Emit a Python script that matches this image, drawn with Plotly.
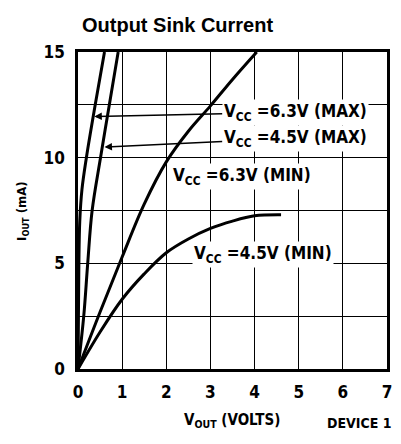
import plotly.graph_objects as go

# Output sink current curves, VOUT (V) vs IOUT (mA)
vout_63_max = [0.0, 0.01, 0.02, 0.04, 0.09, 0.19, 0.39, 0.60]
iout_63_max = [0.0, 2.5, 5.0, 7.0, 8.5, 10.0, 12.5, 15.0]

vout_45_max = [0.0, 0.13, 0.22, 0.32, 0.51, 0.71, 0.91]
iout_45_max = [0.0, 2.5, 5.0, 7.5, 10.0, 12.5, 15.0]

vout_63_min = [0.0, 0.5, 1.0, 1.5, 2.0, 2.5, 3.0, 3.5, 4.05]
iout_63_min = [0.0, 2.7, 5.3, 7.8, 9.8, 11.25, 12.45, 13.7, 15.0]

vout_45_min = [0.0, 0.5, 1.0, 1.5, 2.0, 2.5, 3.0, 3.5, 4.0, 4.6]
iout_45_min = [0.0, 1.75, 3.3, 4.5, 5.5, 6.15, 6.65, 7.0, 7.25, 7.3]

x_ticks = [0, 1, 2, 3, 4, 5, 6, 7]
y_ticks = [0, 2.5, 5, 7.5, 10, 12.5, 15]
y_tick_text = ["0", "", "5", "", "10", "", "15"]

COND = "DejaVu Sans Condensed, Liberation Sans Narrow, Arial Narrow, sans-serif"
SANS = "Liberation Sans, Arial, Helvetica, sans-serif"

W, H = 401, 444
L, R, T, B = 78, 9, 52, 75
pw, ph = W - L - R, H - T - B


def px_to_paper(px, py):
    return (px - L) / pw, 1 - (py - T) / ph


fig = go.Figure()
for xs, ys in [(vout_63_max, iout_63_max), (vout_45_max, iout_45_max),
               (vout_63_min, iout_63_min), (vout_45_min, iout_45_min)]:
    fig.add_trace(go.Scatter(x=xs, y=ys, mode="lines",
                             line=dict(color="black", width=3, shape="spline", smoothing=1.0),
                             hoverinfo="skip", showlegend=False))

label_font = dict(family=COND, size=17, color="black", weight="bold")

# Curve labels with leader arrows for the two MAX curves
fig.add_annotation(x=0.37, y=11.95, ax=4.92, ay=12.16, axref="x", ayref="y",
                   text="V<sub>CC</sub> =6.3V (MAX)", showarrow=True,
                   arrowhead=2, arrowsize=1, arrowwidth=1.5, arrowcolor="black",
                   standoff=0, bgcolor="white", borderpad=1, font=label_font)
fig.add_annotation(x=0.6, y=10.5, ax=4.92, ay=10.93, axref="x", ayref="y",
                   text="V<sub>CC</sub> =4.5V (MAX)", showarrow=True,
                   arrowhead=2, arrowsize=1, arrowwidth=1.5, arrowcolor="black",
                   standoff=0, bgcolor="white", borderpad=1, font=label_font)
fig.add_annotation(x=3.71, y=9.09, text="V<sub>CC</sub> =6.3V (MIN)", showarrow=False,
                   bgcolor="white", borderpad=1, font=label_font)
fig.add_annotation(x=4.2, y=5.4, text="V<sub>CC</sub> =4.5V (MIN)", showarrow=False,
                   bgcolor="white", borderpad=1, font=label_font)

# Title, axis titles and device tag, placed in pixels
for text, (px, py), font, angle in [
    ("Output Sink Current", (179, 25), dict(family=SANS, size=20, color="black", weight="bold"), 0),
    ("V<sub>OUT</sub> (VOLTS)", (234, 420), dict(family=COND, size=15, color="black", weight="bold"), 0),
    ("DEVICE 1", (364, 423), dict(family=COND, size=14, color="black", weight="bold"), 0),
    ("I<sub>OUT</sub> (mA)", (21, 211), dict(family=COND, size=13, color="black", weight="bold"), -90),
]:
    x, y = px_to_paper(px, py)
    fig.add_annotation(x=x, y=y, xref="paper", yref="paper", text=text, showarrow=False,
                       xanchor="center", yanchor="middle", textangle=angle, font=font)

fig.update_layout(
    width=W, height=H, margin=dict(l=L, r=R, t=T, b=B),
    paper_bgcolor="white", plot_bgcolor="white",
    xaxis=dict(range=[0, 7], tickvals=x_ticks, showgrid=True, gridcolor="black", gridwidth=1.2,
               zeroline=False, showline=True, linecolor="black", linewidth=2.5, mirror=True,
               ticks="outside", ticklen=6, tickcolor="rgba(0,0,0,0)",
               tickfont=dict(family=COND, size=17, color="black", weight="bold")),
    yaxis=dict(range=[0, 15], tickvals=y_ticks, ticktext=y_tick_text, showgrid=True,
               gridcolor="black", gridwidth=1.2, zeroline=False, showline=True,
               linecolor="black", linewidth=2.5, mirror=True,
               ticks="outside", ticklen=7, tickcolor="rgba(0,0,0,0)",
               tickfont=dict(family=COND, size=17, color="black", weight="bold")),
)

fig.write_html("out.html")
